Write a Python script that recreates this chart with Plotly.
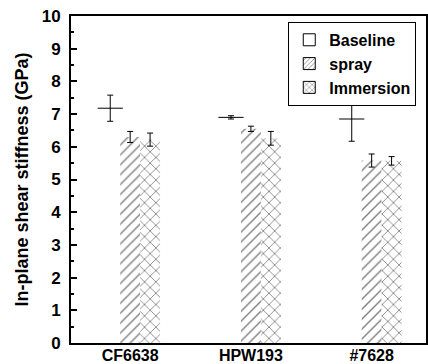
import numpy as np
import plotly.graph_objects as go

categories = ["CF6638", "HPW193", "#7628"]
baseline = [7.18, 6.90, 6.85]
baseline_err = [0.40, 0.05, 0.68]
spray = [6.30, 6.55, 5.58]
spray_err = [0.17, 0.08, 0.20]
immersion = [6.22, 6.26, 5.57]
immersion_err = [0.20, 0.21, 0.13]
y_ticks = list(range(0, 11))

FONT = "Liberation Sans, Arial, sans-serif"
idx = np.arange(len(categories))
W = 0.165

fig = go.Figure()

# Baseline: only the level line + error bar are visible
fig.add_trace(go.Scatter(
    x=idx - W, y=baseline, mode="markers", showlegend=False,
    marker=dict(symbol="line-ew", size=18, color="black",
                line=dict(width=1, color="black")),
    error_y=dict(type="data", array=baseline_err, color="black",
                 thickness=1, width=3),
))

fig.add_trace(go.Bar(
    x=idx, y=spray, width=W, showlegend=False,
    marker=dict(color="white", line=dict(width=0),
                pattern=dict(shape="/", fgcolor="black", bgcolor="white",
                             size=7, solidity=0.2)),
    error_y=dict(type="data", array=spray_err, color="black",
                 thickness=1, width=3),
))

fig.add_trace(go.Bar(
    x=idx + W, y=immersion, width=W, showlegend=False,
    marker=dict(color="white", line=dict(width=0),
                pattern=dict(shape="x", fgcolor="black", bgcolor="white",
                             size=8, solidity=0.2)),
    error_y=dict(type="data", array=immersion_err, color="black",
                 thickness=1, width=3),
))

# legend entries
fig.add_trace(go.Bar(x=[None], y=[None], name="Baseline",
                     marker=dict(color="white", line=dict(width=1, color="black"))))
fig.add_trace(go.Bar(x=[None], y=[None], name="spray",
                     marker=dict(color="white", line=dict(width=1, color="black"),
                                 pattern=dict(shape="/", fgcolor="black",
                                              bgcolor="white", size=4, solidity=0.25))))
fig.add_trace(go.Bar(x=[None], y=[None], name="Immersion",
                     marker=dict(color="white", line=dict(width=1, color="black"),
                                 pattern=dict(shape="x", fgcolor="black",
                                              bgcolor="white", size=5, solidity=0.25))))

fig.update_layout(
    width=428, height=364,
    margin=dict(l=71, r=2, t=16, b=21),
    paper_bgcolor="white", plot_bgcolor="white",
    barmode="overlay",
    font=dict(family=FONT, size=16, color="black", weight="bold"),
    legend=dict(x=0.612, y=0.982, xanchor="left", yanchor="top",
                bordercolor="black", borderwidth=1, bgcolor="white",
                font=dict(family=FONT, size=16, color="black", weight="bold"),
                tracegroupgap=0, itemwidth=30),
    xaxis=dict(range=[-0.49, 2.45], tickvals=idx, ticktext=categories,
               showline=True, linecolor="black", linewidth=2, mirror=True,
               ticks="", showgrid=False, zeroline=False, automargin=False,
               ticklabelstandoff=-3,
               tickfont=dict(family=FONT, size=16, weight="bold")),
    yaxis=dict(range=[0, 10], tickvals=y_ticks, ticks="inside", ticklen=6,
               tickwidth=2, tickcolor="black", ticklabelstandoff=5,
               automargin=False,
               minor=dict(dtick=0.5, ticks="inside", ticklen=3, tickwidth=2,
                          tickcolor="black"),
               showline=True, linecolor="black", linewidth=2, mirror=True,
               showgrid=False, zeroline=False,
               tickfont=dict(family=FONT, size=17, weight="bold"),
               title=dict(text="In-plane shear stiffness (GPa)", standoff=8,
                          font=dict(family=FONT, size=18, weight="bold"))),
)

fig.write_html("out.html")
